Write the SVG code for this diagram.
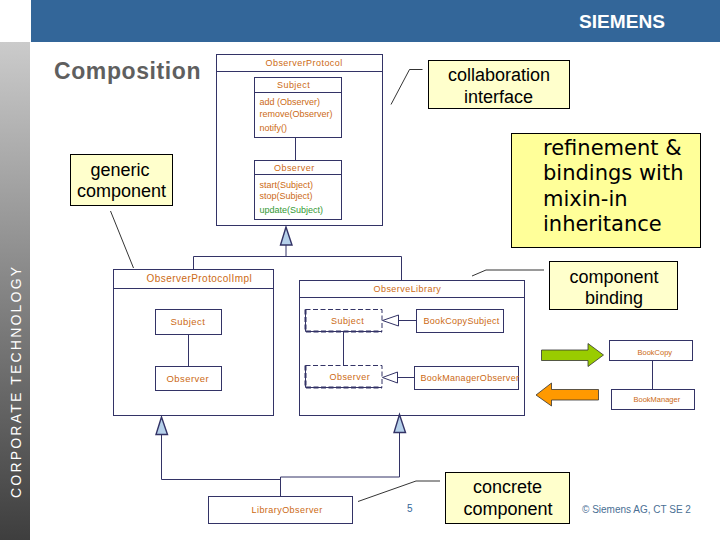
<svg xmlns="http://www.w3.org/2000/svg" width="720" height="540" viewBox="0 0 720 540">
<style>
text{font-family:"Liberation Sans",Arial,sans-serif}
.b{fill:#fff;stroke:#333366;stroke-width:1}
.l{fill:none;stroke:#333366;stroke-width:1}
.k{fill:none;stroke:#000;stroke-width:.8}
.t{fill:#cc6a14;font-size:9px;letter-spacing:.45px}
.m{fill:#cc6a14;font-size:9px}
.n{fill:#ffffcc;stroke:#000;stroke-width:1}
.c{fill:#000;font-size:18px;text-anchor:middle}
.tri{fill:#b5d0ea;stroke:#333366;stroke-width:1.4}
.o{fill:#fff;stroke:#333366;stroke-width:1}
.d{fill:#fff;stroke:#333366;stroke-width:1;stroke-dasharray:5 2.5}
.dh{fill:none;stroke:#333366;stroke-width:2;stroke-dasharray:5 2.5}
.r{font-size:21px;font-family:"DejaVu Sans",sans-serif}
</style>
<defs>
<linearGradient id="g" x1="0" y1="0" x2="0" y2="1"><stop offset="0" stop-color="#cbcbcb"/><stop offset="1" stop-color="#3e3e3e"/></linearGradient>
</defs>
<rect width="720" height="540" fill="#fff"/>
<rect x="31" y="0" width="689" height="42" fill="#336699"/>
<rect x="0" y="42" width="30" height="498" fill="url(#g)"/>
<text x="579" y="28" font-size="18" font-weight="bold" fill="#fff" textLength="86" lengthAdjust="spacingAndGlyphs">SIEMENS</text>
<text transform="translate(21,498) rotate(-90)" font-size="14" fill="#fff" letter-spacing="2.2">CORPORATE TECHNOLOGY</text>
<text x="54" y="79" font-size="23" font-weight="bold" fill="#5f5f5f" letter-spacing=".6">Composition</text>

<g id="observer-protocol">
<rect class="b" x="216.500" y="54.500" width="166" height="171"/>
<path class="l" d="M216.500 71.500H382.500"/>
<text class="t" x="265.500" y="66">ObserverProtocol</text>
</g>
<g id="subject-proto">
<rect class="b" x="254.500" y="77.500" width="87" height="60"/>
<path class="l" d="M254.500 92.500H341.500"/>
<text class="t" x="277" y="88">Subject</text>
<text class="m" x="259.500" y="105">add (Observer)</text>
<text class="m" x="259.500" y="117">remove(Observer)</text>
<text class="m" x="259.500" y="131">notify()</text>
</g>
<g id="observer-proto">
<rect class="b" x="254.500" y="160.500" width="87" height="59"/>
<path class="l" d="M254.500 174.500H341.500"/>
<text class="t" x="274" y="171">Observer</text>
<text class="m" x="259.500" y="188">start(Subject)</text>
<text class="m" x="259.500" y="199">stop(Subject)</text>
<text class="m" x="259.500" y="213" style="fill:#339933">update(Subject)</text>
</g>

<g id="observer-protocol-impl">
<rect class="b" x="113.500" y="269.500" width="160" height="146"/>
<path class="l" d="M113.500 288.500H273.500"/>
<text class="t" x="146.500" y="282" style="font-size:10px">ObserverProtocolImpl</text>
</g>
<g id="subject-impl">
<rect class="b" x="155.500" y="309.500" width="66" height="25"/>
<text class="t" x="170.500" y="325" style="font-size:9.500px">Subject</text>
</g>
<g id="observer-impl">
<rect class="b" x="155.500" y="366.500" width="66" height="24"/>
<text class="t" x="166.500" y="382" style="font-size:9.500px">Observer</text>
</g>

<g id="observe-library">
<rect class="b" x="299.500" y="280.500" width="225" height="135"/>
<path class="l" d="M299.500 297.500H524.500"/>
<text class="t" x="373.500" y="292">ObserveLibrary</text>
</g>
<g id="subject-lib">
<rect class="d" x="305.500" y="309.500" width="76.500" height="22"/>
<path class="dh" d="M305.500 309.500V331.500H382"/>
<text class="t" x="331" y="324">Subject</text>
</g>
<g id="observer-lib">
<rect class="d" x="305.500" y="365.500" width="76.500" height="22"/>
<path class="dh" d="M305.500 365.500V387.500H382"/>
<text class="t" x="329.500" y="380">Observer</text>
</g>
<g id="book-copy-subject">
<rect class="b" x="416.500" y="309.500" width="87" height="23"/>
<text class="t" x="423.500" y="324" style="letter-spacing:.3px">BookCopySubject</text>
</g>
<g id="book-manager-observer">
<rect class="b" x="414.500" y="366.500" width="104" height="23"/>
<text class="t" x="420.500" y="381" style="letter-spacing:.3px">BookManagerObserver</text>
</g>
<g id="book-copy">
<rect class="b" x="609.500" y="340.500" width="83" height="20"/>
<text class="t" x="637.500" y="355" style="font-size:7.500px;letter-spacing:0">BookCopy</text>
</g>
<g id="book-manager">
<rect class="b" x="611.500" y="389.500" width="83" height="20"/>
<text class="t" x="633.500" y="402" style="font-size:7.500px;letter-spacing:0">BookManager</text>
</g>
<g id="library-observer">
<rect class="b" x="208.500" y="496.500" width="144" height="27"/>
<text class="t" x="251.500" y="513">LibraryObserver</text>
</g>

<g id="connectors">
<path class="l" d="M295.500 137.500V160.500M286 245V256.500M193.500 269V256.500H401.500V280M188.500 334.500V366.500M343.500 332V365M652.500 360.500V389.500"/>
<path class="l" d="M161.500 434V479.500H280.500M280.500 496V477H399.500V432"/>
<path class="l" d="M398.500 320.500H416M397.500 377.500H414"/>
<path class="tri" d="M286 227L280.500 245H292Z"/>
<path class="tri" d="M161.500 417L156 434.500H167.500Z"/>
<path class="tri" d="M399.500 414.500L394 432.500H405.500Z"/>
<path class="o" d="M382.500 320.500L398.500 315V326Z"/>
<path class="o" d="M382.500 377.500L397.500 372V383Z"/>
<path class="k" d="M110.500 211L133.500 268M391 104.500L409.500 69.500H422.500M472 276L486 270H544M358 501.500L416 481H440"/>
<path fill="#99cc00" stroke="#333" stroke-width=".8" d="M541.500 350H588V343.500L603.500 355L588 366.500V360.500H541.500Z"/>
<path fill="#ff9900" stroke="#333" stroke-width=".8" d="M598.500 389.500H551.500V383L536 395L551.500 406V400H598.500Z"/>
</g>

<g id="note-generic">
<rect class="n" x="70.500" y="154.500" width="102" height="51"/>
<text class="c" x="120" y="176">generic</text>
<text class="c" x="121.500" y="197">component</text>
</g>
<g id="note-collaboration">
<rect class="n" x="428.500" y="60.500" width="141" height="48"/>
<text class="c" x="499" y="81">collaboration</text>
<text class="c" x="498.500" y="103">interface</text>
</g>
<g id="note-refinement">
<rect x="511.500" y="133.500" width="189" height="114" fill="#ffff99" stroke="#000"/>
<text class="r" x="543" y="155">refinement &amp;</text>
<text class="r" x="543" y="180">bindings with</text>
<text class="r" x="543" y="206">mixin-in</text>
<text class="r" x="543" y="231">inheritance</text>
</g>
<g id="note-binding">
<rect class="n" x="549.500" y="261.500" width="128" height="48"/>
<text class="c" x="614" y="283">component</text>
<text class="c" x="614" y="304">binding</text>
</g>
<g id="note-concrete">
<rect class="n" x="445.500" y="472.500" width="124" height="51"/>
<text class="c" x="507.500" y="493">concrete</text>
<text class="c" x="508" y="515">component</text>
</g>
<text x="407" y="512" font-size="10" fill="#336699">5</text>
<text x="582" y="513" font-size="10" fill="#4a6f94">© Siemens AG, CT SE 2</text>
</svg>
